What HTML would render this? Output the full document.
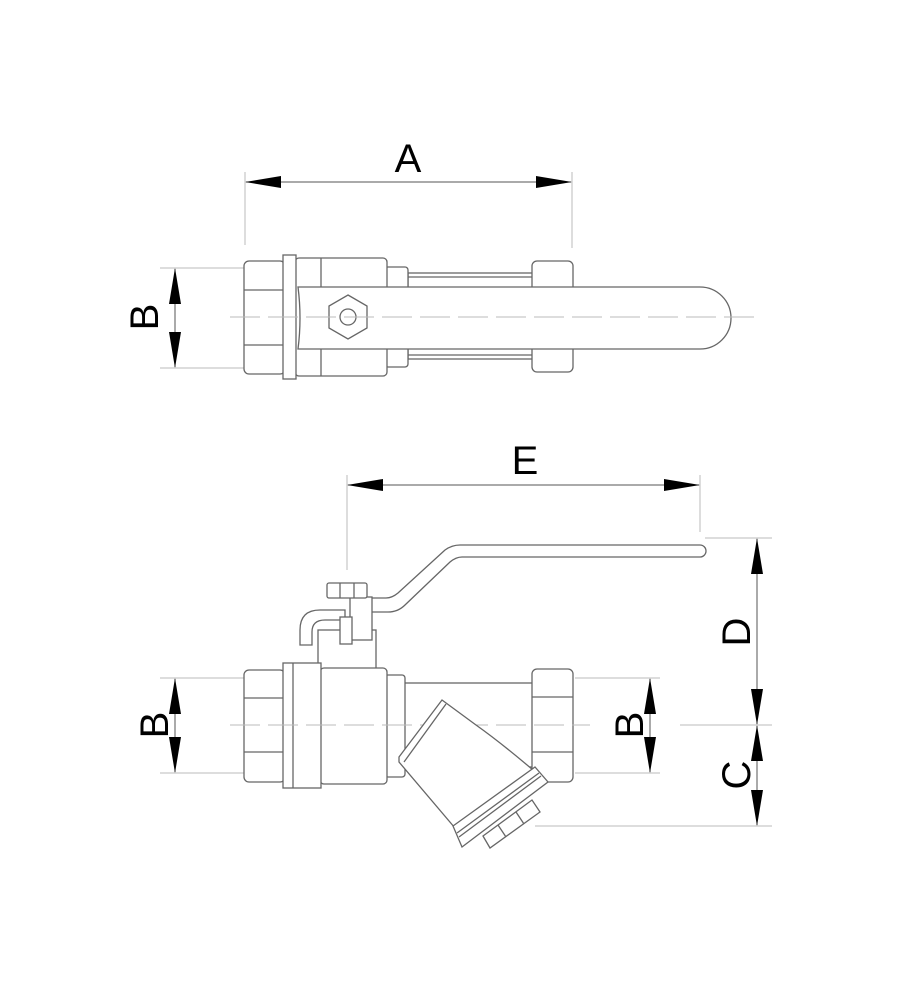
<!DOCTYPE html>
<html><head><meta charset="utf-8"><style>
html,body{margin:0;padding:0;background:#fff;width:908px;height:1000px;overflow:hidden}
svg{display:block}
text{font-family:"Liberation Sans",sans-serif;fill:#000}
</style></head><body>
<svg width="908" height="1000" viewBox="0 0 908 1000">
<defs>
<marker id="ar" markerWidth="36" markerHeight="12" refX="35" refY="6" orient="auto" markerUnits="userSpaceOnUse">
<path d="M0,0 L36,6 L0,12 Z" fill="#000"/></marker>
</defs>
<g stroke="#bbb" stroke-width="1" fill="none">
<line x1="245" y1="172" x2="245" y2="245"/>
<line x1="572" y1="172" x2="572" y2="248"/>
<line x1="160" y1="268" x2="245" y2="268"/>
<line x1="160" y1="368" x2="245" y2="368"/>
<line x1="347" y1="475" x2="347" y2="570"/>
<line x1="700" y1="475" x2="700" y2="532"/>
<line x1="705" y1="538" x2="772" y2="538"/>
<line x1="535" y1="826" x2="772" y2="826"/>
<line x1="160" y1="678" x2="244" y2="678"/>
<line x1="160" y1="773" x2="244" y2="773"/>
<line x1="575" y1="678" x2="660" y2="678"/>
<line x1="575" y1="773" x2="660" y2="773"/>
<line x1="680" y1="725" x2="772" y2="725"/>
</g>
<g stroke="#555" stroke-width="1">
<line x1="408" y1="182" x2="246" y2="182" marker-end="url(#ar)"/>
<line x1="408" y1="182" x2="571" y2="182" marker-end="url(#ar)"/>
<line x1="175" y1="317" x2="175" y2="269" marker-end="url(#ar)"/>
<line x1="175" y1="317" x2="175" y2="367" marker-end="url(#ar)"/>
<line x1="525" y1="485" x2="348" y2="485" marker-end="url(#ar)"/>
<line x1="525" y1="485" x2="699" y2="485" marker-end="url(#ar)"/>
<line x1="175" y1="725" x2="175" y2="679" marker-end="url(#ar)"/>
<line x1="175" y1="725" x2="175" y2="772" marker-end="url(#ar)"/>
<line x1="650" y1="725" x2="650" y2="679" marker-end="url(#ar)"/>
<line x1="650" y1="725" x2="650" y2="772" marker-end="url(#ar)"/>
<line x1="757" y1="630" x2="757" y2="539" marker-end="url(#ar)"/>
<line x1="757" y1="630" x2="757" y2="724" marker-end="url(#ar)"/>
<line x1="757" y1="775" x2="757" y2="726" marker-end="url(#ar)"/>
<line x1="757" y1="775" x2="757" y2="825" marker-end="url(#ar)"/>
</g>
<text x="408" y="172" font-size="40" text-anchor="middle">A</text>
<text x="525" y="474" font-size="40" text-anchor="middle">E</text>
<text transform="translate(158,317) rotate(-90)" font-size="40" text-anchor="middle">B</text>
<text transform="translate(168,725) rotate(-90)" font-size="40" text-anchor="middle">B</text>
<text transform="translate(643,725) rotate(-90)" font-size="40" text-anchor="middle">B</text>
<text transform="translate(750,632) rotate(-90)" font-size="40" text-anchor="middle">D</text>
<text transform="translate(750,775) rotate(-90)" font-size="40" text-anchor="middle">C</text>

<g stroke="#666" stroke-width="1.3" fill="#fff">
<rect x="244" y="261" width="41" height="113" rx="5"/>
<line x1="244" y1="290" x2="285" y2="290"/><line x1="244" y1="345" x2="285" y2="345"/>
<rect x="408" y="273" width="126" height="86"/>
<line x1="408" y1="277" x2="534" y2="277"/><line x1="408" y1="355" x2="534" y2="355"/>
<rect x="532" y="261" width="41" height="111" rx="5"/>
<rect x="385" y="267" width="23" height="100" rx="3"/>
<rect x="295" y="258" width="92" height="118" rx="4"/>
<line x1="321" y1="258" x2="321" y2="376"/>
<rect x="283" y="255" width="13" height="124"/>
<path d="M298,287 H700 A31,31 0 0 1 700,349 H298 Q302,318 298,287 Z"/>
<polygon points="348,295 367,306 367,328 348,339 329,328 329,306"/>
<circle cx="348" cy="317" r="8"/>

<path d="M370,598 L386,598 Q392,598 398,593 L445,550 Q452,545 460,545 L700,545 A6,6 0 0 1 700,557 L462,557 Q456,557 450,562 L405,605 Q398,612 388,612 L370,612 Z"/>
<path d="M300,645 L300,630 Q300,610 320,610 L345,610 L345,620 L325,620 Q312,620 312,632 L312,645 Z"/>
<rect x="318" y="630" width="58" height="40"/>
<rect x="350" y="597" width="22" height="43"/>
<rect x="340" y="617" width="12" height="27"/>
<rect x="327" y="583" width="40" height="15" rx="2"/>
<line x1="340" y1="583" x2="340" y2="598"/><line x1="354" y1="583" x2="354" y2="598"/>
<rect x="244" y="670" width="41" height="112" rx="5"/>
<line x1="244" y1="698" x2="285" y2="698"/><line x1="244" y1="752" x2="285" y2="752"/>
<rect x="403" y="683" width="131" height="84"/>
<rect x="532" y="669" width="41" height="113" rx="5"/>
<line x1="532" y1="697" x2="573" y2="697"/><line x1="532" y1="752" x2="573" y2="752"/>
<rect x="385" y="675" width="20" height="102" rx="3"/>
<rect x="320" y="668" width="67" height="116" rx="4"/>
<rect x="283" y="663" width="38" height="125"/>
<line x1="293" y1="663" x2="293" y2="788"/>
</g>
<g stroke="#bbb" stroke-width="1" fill="none" stroke-dasharray="30,8">
<line x1="230" y1="317" x2="760" y2="317"/>
<line x1="230" y1="725" x2="590" y2="725"/>
</g>
<g stroke="#666" stroke-width="1.3" fill="#fff">
<path d="M399,757 L442,700 L476,725 Q500,742 533,770 L455,828 L399,762 Z"/>
<line x1="404" y1="762" x2="446" y2="704"/>
<polygon points="453,826 535,767 548,782 462,847"/>
<line x1="457" y1="833" x2="539" y2="773"/>
<line x1="459" y1="837" x2="541" y2="776"/>
<polygon points="483,836 532,800 540,812 490,848" />
<line x1="498" y1="825" x2="506" y2="837"/><line x1="516" y1="812" x2="524" y2="824"/>
</g>
</svg>
</body></html>
